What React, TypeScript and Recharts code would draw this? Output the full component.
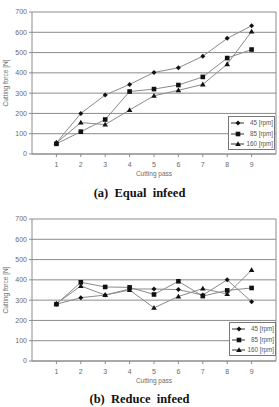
import React from "react";
import { LineChart, Line, XAxis, YAxis, CartesianGrid, ReferenceLine } from "recharts";

const passes = [1, 2, 3, 4, 5, 6, 7, 8, 9];
const yTicks = [0, 100, 200, 300, 400, 500, 600, 700];

// (a) Equal infeed
const equal45 = [55, 200, 291, 343, 402, 425, 482, 570, 632];
const equal85 = [50, 110, 170, 308, 320, 340, 380, 473, 515];
const equal160 = [55, 155, 145, 217, 287, 314, 343, 443, 604];

// (b) Reduce infeed
const reduce45 = [280, 312, 325, 355, 355, 352, 325, 400, 292];
const reduce85 = [280, 388, 365, 363, 328, 393, 320, 348, 360];
const reduce160 = [283, 370, 325, 350, 262, 318, 357, 330, 448];

const seriesNames = ["45 [rpm]", "85 [rpm]", "160 [rpm]"];

const LINE = "#8a8a8a";
const GRID = "#8c8c8c";
const MARK = "#111";
const TXT = "#6a6a6a";
const SANS = "'Liberation Sans', Arial, sans-serif";

function Diamond({ cx, cy }: { cx: number; cy: number }) {
  const r = 2.5;
  return <polygon points={`${cx},${cy - r} ${cx + r},${cy} ${cx},${cy + r} ${cx - r},${cy}`} fill={MARK} />;
}
function Square({ cx, cy }: { cx: number; cy: number }) {
  return <rect x={cx - 2.3} y={cy - 2.3} width={4.6} height={4.6} fill={MARK} />;
}
function Triangle({ cx, cy }: { cx: number; cy: number }) {
  return <polygon points={`${cx},${cy - 2.8} ${cx + 2.8},${cy + 2} ${cx - 2.8},${cy + 2}`} fill={MARK} />;
}

const shapes = [Diamond, Square, Triangle];

function makeDot(Shape: typeof Diamond) {
  return (p: any) => <Shape key={p.key ?? `${p.cx}-${p.cy}`} cx={p.cx} cy={p.cy} />;
}

function LegendBox({ left, top }: { left: number; top: number }) {
  return (
    <div
      style={{
        position: "absolute",
        left,
        top,
        width: 47,
        height: 34,
        background: "#fff",
        border: "1px solid #777",
        boxSizing: "border-box",
      }}
    >
      {seriesNames.map((name, i) => {
        const Shape = shapes[i];
        return (
          <div key={name} style={{ position: "absolute", left: 0, top: 1 + i * 10.5, width: 45, height: 10 }}>
            <svg width={16} height={10} style={{ position: "absolute", left: 1, top: 0 }}>
              <line x1={1} y1={5} x2={14} y2={5} stroke="#333" strokeWidth={1} />
              <Shape cx={8} cy={5} />
            </svg>
            <span
              style={{
                position: "absolute",
                right: 1,
                top: 1,
                fontFamily: SANS,
                fontSize: 6.3,
                color: "#555",
                lineHeight: "8px",
                whiteSpace: "nowrap",
              }}
            >
              {name}
            </span>
          </div>
        );
      })}
    </div>
  );
}

function ForceChart({ s1, s2, s3 }: { s1: number[]; s2: number[]; s3: number[] }) {
  const data = passes.map((p, i) => ({ pass: p, a: s1[i], b: s2[i], c: s3[i] }));
  return (
    <LineChart width={279} height={180} data={data} margin={{ top: 12, right: 3, bottom: 0, left: 0 }}>
      <CartesianGrid vertical={false} stroke={GRID} strokeWidth={1} />
      <XAxis
        dataKey="pass"
        type="number"
        domain={[0, 10]}
        ticks={passes}
        interval={0}
        height={26}
        tickSize={3}
        tickMargin={5}
        stroke={GRID}
        tick={{ fontSize: 7, fill: TXT, fontFamily: SANS }}
        label={{ value: "Cutting pass", position: "insideBottom", offset: 4, fontSize: 6.5, fill: TXT, fontFamily: SANS }}
      />
      <YAxis
        type="number"
        domain={[0, 700]}
        ticks={yTicks}
        interval={0}
        width={32}
        tickSize={3}
        tickMargin={2}
        stroke={GRID}
        tick={{ fontSize: 7, fill: TXT, fontFamily: SANS }}
        label={{
          value: "Cutting force [N]",
          angle: -90,
          position: "center",
          dx: -10,
          fontSize: 6.5,
          fill: TXT,
          fontFamily: SANS,
        }}
      />
      <ReferenceLine x={10} stroke={GRID} />
      <Line dataKey="a" stroke={LINE} strokeWidth={1} dot={makeDot(Diamond)} isAnimationActive={false} />
      <Line dataKey="b" stroke={LINE} strokeWidth={1} dot={makeDot(Square)} isAnimationActive={false} />
      <Line dataKey="c" stroke={LINE} strokeWidth={1} dot={makeDot(Triangle)} isAnimationActive={false} />
    </LineChart>
  );
}

const titleStyle: React.CSSProperties = {
  position: "absolute",
  left: 0,
  width: 279,
  textAlign: "center",
  fontFamily: "'Liberation Serif', 'Times New Roman', serif",
  fontWeight: "bold",
  fontSize: 12.5,
  whiteSpace: "pre",
  color: "#111",
};

export default function App() {
  return (
    <div style={{ position: "absolute", left: 0, top: 0, width: 279, height: 407, background: "#fff" }}>
      <div style={{ position: "absolute", left: 0, top: 0 }}>
        <ForceChart s1={equal45} s2={equal85} s3={equal160} />
      </div>
      <LegendBox left={228} top={116} />
      <div style={{ ...titleStyle, top: 186 }}>{"(a)  Equal  infeed"}</div>

      <div style={{ position: "absolute", left: 0, top: 207 }}>
        <ForceChart s1={reduce45} s2={reduce85} s3={reduce160} />
      </div>
      <LegendBox left={229} top={322} />
      <div style={{ ...titleStyle, top: 392 }}>{"(b)  Reduce  infeed"}</div>
    </div>
  );
}
